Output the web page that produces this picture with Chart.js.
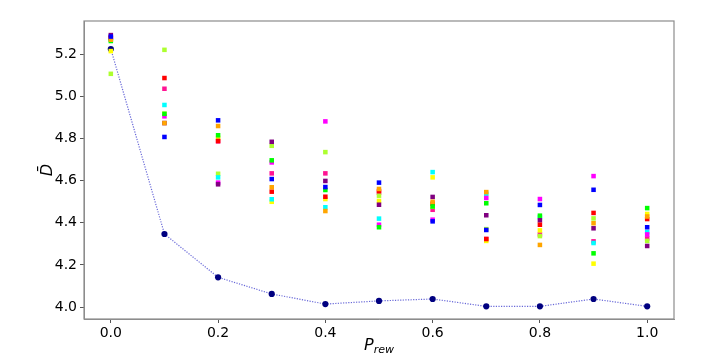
<!DOCTYPE html>
<html><head><meta charset="utf-8">
<script src="https://cdn.jsdelivr.net/npm/chart.js@4"></script>
<style>html,body{margin:0;padding:0;background:#fff}#wrap{width:718px;height:360px}</style>
</head><body><div id="wrap"><canvas id="c" width="718" height="360"></canvas></div>
<script>
const pRew = [0.0,0.1,0.2,0.3,0.4,0.5,0.6,0.7,0.8,0.9,1.0];
const meanD = [5.226,4.347,4.141,4.062,4.014,4.029,4.038,4.003,4.003,4.038,4.003];
const blueRun    = [5.285,4.808,4.887,4.608,4.570,4.591,4.407,4.366,4.485,4.557,4.379];
const orangeRun  = [5.270,4.874,4.860,4.569,4.456,4.561,4.500,4.546,4.295,4.398,4.430];
const greenRun   = [5.264,4.918,4.816,4.697,4.556,4.379,4.478,4.493,4.434,4.255,4.470];
const redRun     = [5.280,5.088,4.789,4.548,4.524,4.551,4.491,4.323,4.391,4.447,4.418];
const purpleRun  = [5.292,4.874,4.583,4.785,4.599,4.486,4.523,4.436,4.412,4.374,4.290];
const magentaRun = [5.279,4.906,4.591,4.687,4.882,4.391,4.415,4.518,4.513,4.622,4.345];
const cyanRun    = [5.270,4.960,4.616,4.512,4.474,4.420,4.641,4.538,4.426,4.304,4.356];
const yellowRun  = [5.216,4.918,4.803,4.500,4.513,4.504,4.616,4.314,4.364,4.206,4.442];
const gyRun      = [5.108,5.222,4.633,4.766,4.736,4.529,4.476,4.370,4.337,4.421,4.314];
const pinkRun    = [5.275,5.037,4.787,4.635,4.635,4.543,4.462,4.323,4.345,4.312,4.326];
const xTicks = [0.0,0.2,0.4,0.6,0.8,1.0];
const yTicks = [4.0,4.2,4.4,4.6,4.8,5.0,5.2];

const runs = [
  [blueRun,'#0000ff'],[orangeRun,'#ffa500'],[greenRun,'#00ff00'],[redRun,'#ff0000'],
  [purpleRun,'#800080'],[magentaRun,'#ff00ff'],[cyanRun,'#00ffff'],[yellowRun,'#ffff00'],
  [gyRun,'#adff2f'],[pinkRun,'#ff1493']
];
const pts = arr => arr.map((v,i)=>({x:pRew[i],y:v}));
const datasets = [{
  type:'line', data:pts(meanD), borderColor:'rgba(40,40,200,0.7)', borderWidth:1.2,
  borderDash:[1.2,1.4], backgroundColor:'#000080', pointBackgroundColor:'#000080',
  pointBorderWidth:0, pointRadius:3.1, tension:0, fill:false, order:2
}];
runs.forEach(([arr,col])=>datasets.push({
  type:'scatter', data:pts(arr), backgroundColor:col, borderWidth:0,
  pointStyle:'rect', pointRadius:3.2, order:1
}));

const frame = {
  id:'frame',
  afterDraw(chart){
    const {ctx, chartArea:a} = chart;
    ctx.save();
    ctx.strokeStyle='#8c8c8c'; ctx.lineWidth=1.2;
    ctx.strokeRect(a.left, a.top, a.right-a.left, a.bottom-a.top);
    ctx.fillStyle='#000';
    ctx.textBaseline='alphabetic';
    ctx.font='italic 16px "DejaVu Sans"';
    const pW = ctx.measureText('P').width;
    ctx.font='italic 11px "DejaVu Sans"';
    const sW = ctx.measureText('rew').width;
    const cx = (a.left+a.right)/2, x0 = cx - (pW+sW)/2;
    ctx.font='italic 16px "DejaVu Sans"';
    ctx.fillText('P', x0, 350);
    ctx.font='italic 11px "DejaVu Sans"';
    ctx.fillText('rew', x0+pW, 353);
    ctx.translate(52, (a.top+a.bottom)/2);
    ctx.rotate(-Math.PI/2);
    ctx.textAlign='center';
    ctx.font='italic 16px "DejaVu Sans"';
    ctx.fillText('D\u0304', 0, 0);
    ctx.restore();
  }
};

new Chart(document.getElementById('c'), {
  data:{datasets},
  options:{
    responsive:false, animation:false,
    layout:{padding:{left:0,top:21,right:44,bottom:0}},
    plugins:{legend:{display:false}, tooltip:{enabled:false}},
    scales:{
      x:{type:'linear', min:-0.05, max:1.05,
        afterBuildTicks(s){ s.ticks = xTicks.map(v=>({value:v})); },
        afterFit(s){ s.height = 41; },
        grid:{display:true, drawOnChartArea:false, drawTicks:true, tickLength:4, color:'#555'},
        border:{display:true, color:'#8c8c8c'},
        ticks:{color:'#000', padding:2, font:{family:'DejaVu Sans', size:14}, callback:v=>Number(v).toFixed(1), maxRotation:0}
      },
      y:{type:'linear', min:3.943, max:5.359,
        afterBuildTicks(s){ s.ticks = yTicks.map(v=>({value:v})); },
        afterFit(s){ s.width = 84; },
        grid:{display:true, drawOnChartArea:false, drawTicks:true, tickLength:4, color:'#555'},
        border:{display:true, color:'#8c8c8c'},
        ticks:{color:'#000', padding:3, font:{family:'DejaVu Sans', size:14}, callback:v=>Number(v).toFixed(1)}
      }
    }
  },
  plugins:[frame]
});
</script></body></html>
